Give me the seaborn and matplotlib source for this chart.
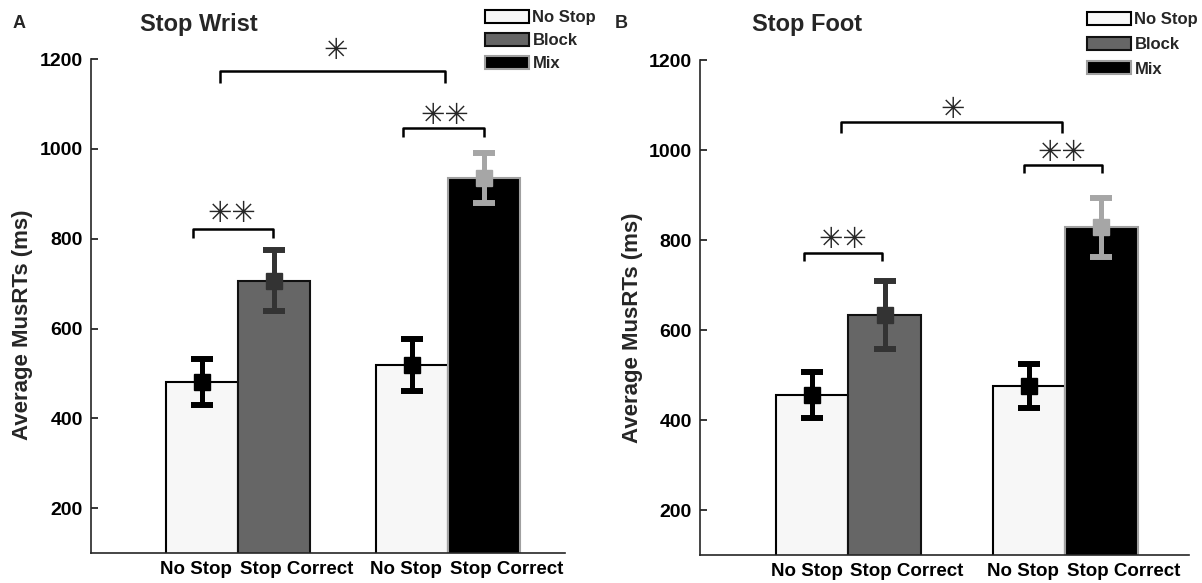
import numpy as np
import pandas as pd
import seaborn as sns
import matplotlib.pyplot as plt
from matplotlib.patches import Patch

# bar order in each panel: No Stop, Stop Correct (Block), No Stop, Stop Correct (Mix)
tick_labels = ["No Stop", "Stop Correct", "No Stop", "Stop Correct"]
bar_groups = ["No Stop", "Block", "No Stop", "Mix"]
legend_labels = ["No Stop", "Block", "Mix"]
y_ticks = [200, 400, 600, 800, 1000, 1200]

wrist_means = [480, 706, 518, 935]
wrist_sems = [51, 68, 58, 55]
foot_means = [455, 634, 475, 828]
foot_sems = [51, 76, 49, 65]

fill = {"No Stop": "#f7f7f7", "Block": "#666666", "Mix": "#000000"}
edge = {"No Stop": "#000000", "Block": "#111111", "Mix": "#a0a0a0"}
err_col = {"No Stop": "#000000", "Block": "#333333", "Mix": "#a6a6a6"}

sns.set_style("white")
plt.rcParams['font.family'] = ['Liberation Sans', 'DejaVu Sans']
plt.rcParams['font.weight'] = 'bold'
plt.rcParams['axes.labelweight'] = 'bold'


def panel(ax, means, sems, second, xlim, brackets, ylab_xy):
    # second = where the second pair of bars starts, in bar widths
    pos = [0, 1, second, second + 1]
    df = pd.DataFrame({"pos": pos, "rt": means, "bar": ["b%d" % i for i in range(4)]})
    sns.barplot(data=df, x="pos", y="rt", hue="bar", palette=[fill[g] for g in bar_groups],
                native_scale=True, dodge=False, width=1.0, errorbar=None, legend=False,
                saturation=1, ax=ax)
    for p, g in zip(ax.patches, bar_groups):
        p.set_edgecolor(edge[g])
        p.set_linewidth(1.5)
    for x, m, s, g in zip(pos, means, sems, bar_groups):
        ax.errorbar(x, m, yerr=s, fmt='s', color=err_col[g], ms=12, elinewidth=3.6,
                    capsize=8, capthick=4.3, zorder=3)
    # significance brackets
    for x0, x1, y, drop, stars, sx, sy in brackets:
        ax.plot([x0, x0, x1, x1], [y - drop, y, y, y - drop], color='black', lw=1.8,
                clip_on=False, solid_capstyle='butt')
        ax.text(sx, sy, stars, ha='center', va='center', fontsize=21, fontweight='bold',
                family=['DejaVu Sans'], clip_on=False)
    ax.set_xlim(*xlim)
    ax.set_ylim(100, 1200)
    ax.set_yticks(y_ticks)
    xt = [pos[0] + 0.42, pos[1] - 0.47, pos[2] + 0.42, pos[3] - 0.47]
    ax.set_xticks(xt)
    ax.set_xticklabels(tick_labels)
    for t, ha in zip(ax.get_xticklabels(), ['right', 'left', 'right', 'left']):
        t.set_ha(ha)
    ax.tick_params(axis='x', length=0, pad=6, labelsize=13.5, colors='black')
    ax.tick_params(axis='y', direction='in', length=5, width=1.3, pad=6, labelsize=14,
                   colors='#262626', labelcolor='black', left=True)
    for side in ['top', 'right']:
        ax.spines[side].set_visible(False)
    for side in ['left', 'bottom']:
        ax.spines[side].set_color('#262626')
        ax.spines[side].set_linewidth(1.2)
    ax.set_xlabel('')
    ax.set_ylabel('Average MusRTs (ms)', fontsize=16)
    ax.yaxis.set_label_coords(*ylab_xy)


fig = plt.figure(figsize=(12.02, 5.83), dpi=100)
axA = fig.add_axes([0.0757, 0.0515, 0.3944, 0.847])
axB = fig.add_axes([0.5824, 0.048, 0.4068, 0.849])

panel(axA, wrist_means, wrist_sems, 2.917, (-1.54, 5.04),
      [(-0.125, 0.986, 822, 20, "✳✳", 0.42, 856),
       (2.79, 3.917, 1047, 20, "✳✳", 3.375, 1073),
       (0.25, 3.375, 1173, 25, "✳", 1.85, 1218)],
      (-0.122, 0.4615))
panel(axB, foot_means, foot_sems, 2.99, (-1.545, 5.2),
      [(-0.11, 0.97, 772, 18, "✳✳", 0.43, 801),
       (2.92, 4.0, 967, 18, "✳✳", 3.45, 994),
       (0.40, 3.45, 1062, 25, "✳", 1.94, 1088)],
      (-0.1166, 0.46))

W, H = 1202, 583
fig.text(140 / W, 1 - 31 / H, "Stop Wrist", fontsize=17, fontweight='bold', va='baseline')
fig.text(752 / W, 1 - 31 / H, "Stop Foot", fontsize=17, fontweight='bold', va='baseline')
fig.text(13 / W, 1 - 28 / H, "A", fontsize=13, fontweight='bold', va='baseline')
fig.text(615 / W, 1 - 28 / H, "B", fontsize=13, fontweight='bold', va='baseline')

handles = [Patch(facecolor=fill[g], edgecolor=edge[g], linewidth=1.5) for g in legend_labels]
for x0, y0, sp in [(485, 10, 0.45), (1087, 12, 0.55)]:
    fig.legend(handles, legend_labels, loc='upper left', bbox_to_anchor=(x0 / W, 1 - y0 / H),
               frameon=False, prop={'size': 12, 'weight': 'bold'}, handlelength=2.65,
               handleheight=0.85, labelspacing=sp, handletextpad=0.2, borderpad=0,
               borderaxespad=0)

fig.savefig("out.png", dpi=100)
